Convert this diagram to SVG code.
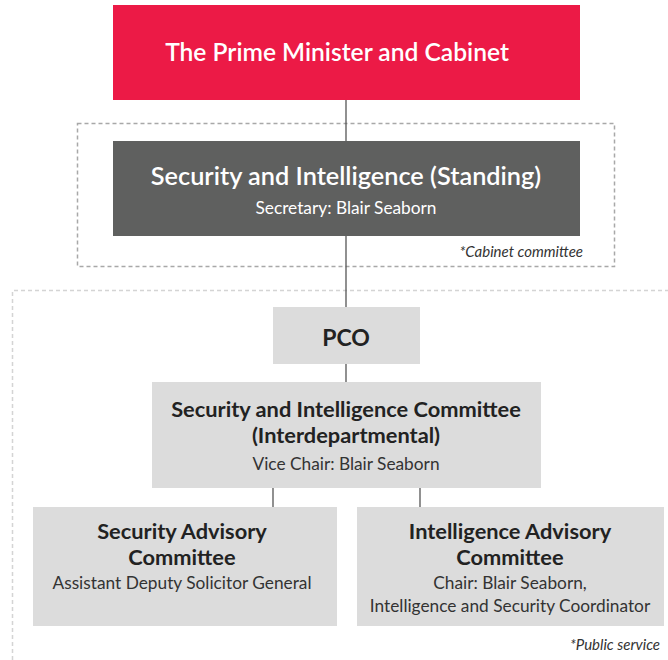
<svg xmlns="http://www.w3.org/2000/svg" width="668" height="660" viewBox="0 0 668 660">
  <style>
    .t { font-family: Lato, "Liberation Sans", sans-serif; text-anchor: middle; }
    .h1 { font-size: 24.6px; font-weight: 600; fill: #ffffff; }
    .h2 { font-size: 25.3px; font-weight: 600; fill: #ffffff; }
    .h3 { font-size: 21.8px; font-weight: 700; fill: #222222; }
    .sub { font-size: 17.3px; font-weight: 400; }
    .note { font-family: Lato, "Liberation Sans", sans-serif; font-size: 15px; font-style: italic; fill: #333333; text-anchor: end; }
    .box { fill: #dcdcdc; }
    .conn line { stroke: #555555; stroke-width: 1.3; }
  </style>

  <!-- grouping frames -->
  <rect x="77.5" y="123.5" width="537" height="143" fill="none" stroke="#a8a8a8" stroke-width="1.5" stroke-dasharray="4 3"/>
  <text class="note" x="583" y="257">*Cabinet committee</text>
  <path d="M12.5 660 V290.5 H668" fill="none" stroke="#d4d4d4" stroke-width="1.5" stroke-dasharray="4 3"/>
  <text class="note" x="660" y="650">*Public service</text>

  <!-- connectors -->
  <g class="conn" id="connectors">
    <line x1="346" y1="100" x2="346" y2="141"/>
    <line x1="346" y1="236" x2="346" y2="307"/>
    <line x1="346" y1="364" x2="346" y2="382"/>
    <line x1="273" y1="488" x2="273" y2="507"/>
    <line x1="420" y1="488" x2="420" y2="507"/>
  </g>

  <g id="pm-cabinet">
    <rect x="113" y="5" width="467" height="95" fill="#ec1a46"/>
    <text class="t h1" x="337" y="61">The Prime Minister and Cabinet</text>
  </g>

  <g id="si-standing">
    <rect x="113" y="141" width="467" height="95" fill="#5f605f"/>
    <text class="t h2" x="346" y="185">Security and Intelligence (Standing)</text>
    <text class="t sub" x="346" y="214" fill="#ffffff">Secretary: Blair Seaborn</text>
  </g>

  <g id="pco">
    <rect class="box" x="273" y="307" width="147" height="57"/>
    <text class="t" x="346" y="346" font-size="23" font-weight="700" fill="#222222">PCO</text>
  </g>

  <g id="sic">
    <rect class="box" x="152" y="382" width="389" height="106"/>
    <text class="t h3" x="346" y="417">Security and Intelligence Committee</text>
    <text class="t h3" x="346" y="443">(Interdepartmental)</text>
    <text class="t sub" x="346" y="470" fill="#333333">Vice Chair: Blair Seaborn</text>
  </g>

  <g id="sac">
    <rect class="box" x="33" y="507" width="304" height="119"/>
    <text class="t h3" x="182" y="539">Security Advisory</text>
    <text class="t h3" x="182" y="565">Committee</text>
    <text class="t sub" x="182" y="589" fill="#333333">Assistant Deputy Solicitor General</text>
  </g>

  <g id="iac">
    <rect class="box" x="357" y="507" width="307" height="119"/>
    <text class="t h3" x="510" y="539">Intelligence Advisory</text>
    <text class="t h3" x="510" y="565">Committee</text>
    <text class="t sub" x="510" y="589" fill="#333333">Chair: Blair Seaborn,</text>
    <text class="t sub" x="510" y="612" fill="#333333">Intelligence and Security Coordinator</text>
  </g>
</svg>
